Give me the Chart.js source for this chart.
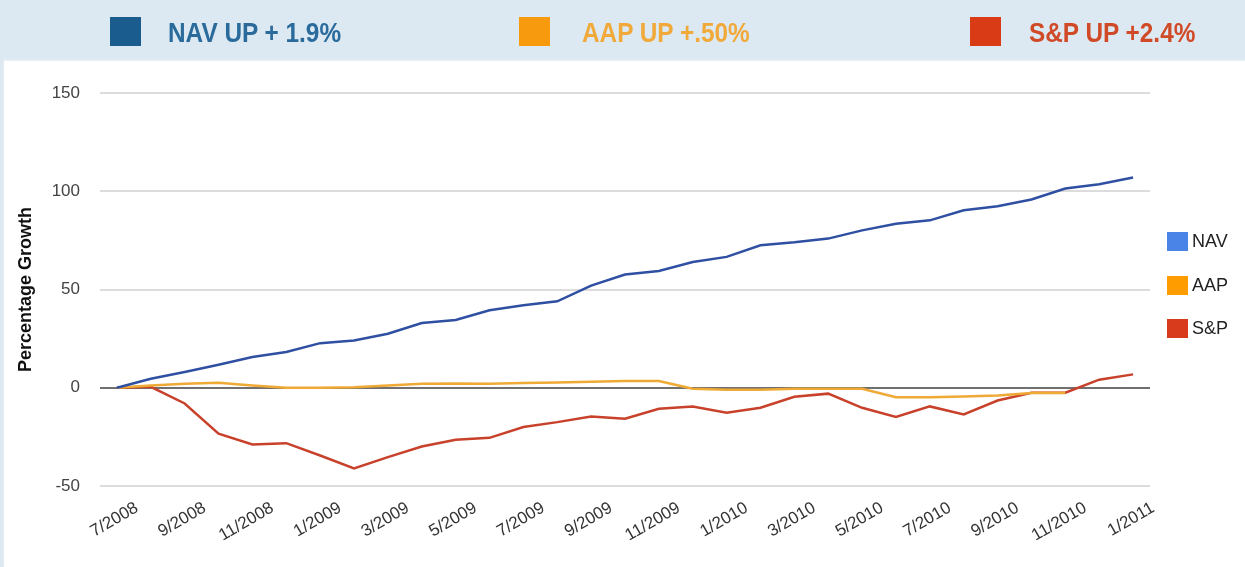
<!DOCTYPE html>
<html>
<head>
<meta charset="utf-8">
<script src="https://cdn.jsdelivr.net/npm/chart.js@4.4.1/dist/chart.umd.min.js"></script>
<style>
  body { margin: 0; width: 1245px; height: 567px; background: #dce9f2; overflow: hidden; font-family: "Liberation Sans", Arial, sans-serif; }
  #panel { position: absolute; left: 4px; top: 61px; width: 1241px; height: 506px; background: #fff; box-shadow: 0 -1px 2px #eef4f8; }
  #chart { position: absolute; left: 0; top: 0; }
  .hdr { position: absolute; top: 17px; height: 30px; }
  .hdr i { position: absolute; left: 0; top: 0; width: 31px; height: 29px; }
  .hdr span { position: absolute; top: 0; line-height: 30px; white-space: nowrap; font: bold 28px "Liberation Sans", Arial, sans-serif; transform: scaleX(0.87); transform-origin: left center; }
  .lg { position: absolute; left: 1167px; height: 20px; }
  .lg i { position: absolute; left: 0; top: 0; width: 21px; height: 19px; }
  .lg span { position: absolute; left: 25px; top: -1px; font-size: 18px; line-height: 21px; color: #222; }
</style>
</head>
<body>
<div id="panel"></div>
<canvas id="chart" width="1245" height="567"></canvas>

<div class="hdr" style="left:110px"><i style="background:#1b5c8f"></i><span style="left:58px;color:#2a6b9c">NAV UP + 1.9%</span></div>
<div class="hdr" style="left:519px"><i style="background:#f79a0e"></i><span style="left:63px;color:#f1a93a">AAP UP +.50%</span></div>
<div class="hdr" style="left:970px"><i style="background:#d93b16"></i><span style="left:59px;color:#d04a28">S&amp;P UP +2.4%</span></div>

<div class="lg" style="top:232px"><i style="background:#4a84e6"></i><span>NAV</span></div>
<div class="lg" style="top:276px"><i style="background:#ff9d00"></i><span>AAP</span></div>
<div class="lg" style="top:319px"><i style="background:#d83a1c"></i><span>S&amp;P</span></div>

<script>
const months = [
  '7/2008', '8/2008', '9/2008', '10/2008', '11/2008', '12/2008',
  '1/2009', '2/2009', '3/2009', '4/2009', '5/2009', '6/2009',
  '7/2009', '8/2009', '9/2009', '10/2009', '11/2009', '12/2009',
  '1/2010', '2/2010', '3/2010', '4/2010', '5/2010', '6/2010',
  '7/2010', '8/2010', '9/2010', '10/2010', '11/2010', '12/2010',
  '1/2011',
];

// percentage growth
const nav = [0, 4.6, 8, 11.7, 15.6, 18.2, 22.7, 24.1, 27.5, 32.9, 34.5, 39.4, 42, 44, 52, 57.6,
  59.4, 64, 66.6, 72.5, 74, 75.9, 80.1, 83.5, 85.2, 90.3, 92.4, 95.8, 101.4, 103.6, 107];
const aap = [0, 1.2, 2, 2.5, 1.2, 0, 0, 0.3, 1.2, 2, 2.2, 2, 2.4, 2.7, 3, 3.4,
  3.4, -0.5, -1, -1, -0.5, -0.5, -0.5, -4.8, -4.8, -4.4, -3.9, -2.7, -2.7, null, null];
const sp = [0, 0.5, -8, -23.4, -28.9, -28.2, -34.5, -41, -35.3, -29.9, -26.5, -25.5, -20, -17.5, -14.6, -15.8,
  -10.7, -9.5, -12.7, -10.2, -4.6, -3, -10.2, -14.9, -9.5, -13.6, -6.5, -2.5, -2.5, 4.1, 6.8];

const yTicks = [-50, 0, 50, 100, 150];

const tickFont = { family: '"Liberation Sans", Arial, sans-serif', size: 17 };

const line = (label, data, color) => ({
  label, data,
  borderColor: color,
  borderWidth: 2.5,
  pointRadius: 0,
  tension: 0,
  fill: false,
});

new Chart(document.getElementById('chart'), {
  type: 'line',
  data: {
    labels: months,
    datasets: [
      line('NAV', nav, '#2f50a2'),
      line('AAP', aap, '#efa935'),
      line('S&P', sp, '#c8412b'),
    ],
  },
  options: {
    responsive: false,
    devicePixelRatio: 1,
    animation: false,
    layout: { padding: { top: 93, right: 95, bottom: 0, left: 0 } },
    plugins: { legend: { display: false }, tooltip: { enabled: false } },
    scales: {
      x: {
        offset: true,
        grid: { display: false },
        border: { display: false },
        ticks: {
          autoSkip: false,
          minRotation: 30,
          maxRotation: 30,
          labelOffset: 20,
          padding: 4,
          color: '#333',
          font: tickFont,
          callback(value, index) { return index % 2 === 0 ? months[index] : ''; },
        },
        afterFit(scale) { scale.height = 81; },
      },
      y: {
        min: -50,
        max: 150,
        afterBuildTicks(scale) { scale.ticks = yTicks.map(v => ({ value: v })); },
        grid: {
          drawTicks: false,
          lineWidth: 2,
          color: ctx => (ctx.tick && ctx.tick.value === 0 ? '#707070' : '#dcdcdc'),
        },
        border: { display: false },
        ticks: { padding: 20, color: '#444', font: tickFont },
        title: {
          display: true,
          text: 'Percentage Growth',
          color: '#111',
          font: { family: '"Liberation Sans", Arial, sans-serif', size: 18, weight: 'bold' },
          padding: { top: 15, bottom: 0 },
        },
        afterFit(scale) { scale.width = 100; },
      },
    },
  },
});
</script>
</body>
</html>
